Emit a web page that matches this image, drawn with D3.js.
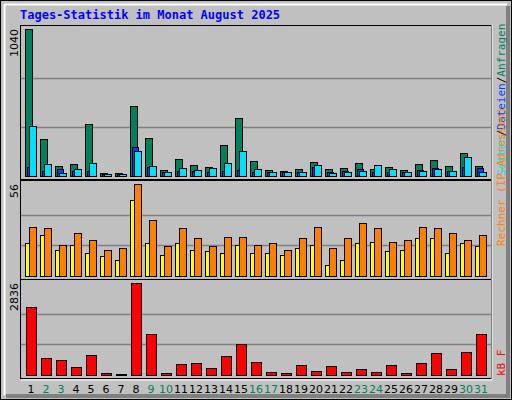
<!DOCTYPE html>
<html><head><meta charset="utf-8">
<script src="https://cdn.jsdelivr.net/npm/d3@7"></script>
<style>body{margin:0;background:#fff}svg{display:block}</style>
</head><body><div id="chart"></div>
<script>
let days = d3.range(1, 32);
let weekend = [2, 3, 9, 10, 16, 17, 23, 24, 30, 31];
let hits = [1040, 262, 71, 85, 368, 21, 21, 495, 269, 42, 120, 78, 64, 219, 410, 106, 42, 35, 50, 99, 50, 57, 92, 50, 64, 42, 85, 113, 71, 163, 71];
let files = [64, 35, 50, 35, 35, 14, 14, 205, 64, 28, 35, 35, 28, 35, 42, 28, 28, 28, 28, 64, 28, 35, 50, 28, 28, 28, 42, 57, 35, 64, 57];
let pages = [354, 85, 21, 50, 92, 14, 14, 177, 71, 28, 57, 42, 57, 92, 177, 50, 28, 28, 28, 78, 21, 28, 35, 78, 50, 28, 35, 50, 35, 134, 28];
let visits = [20, 25, 16, 19, 14, 12, 10, 46, 20, 13, 20, 16, 15, 14, 19, 14, 14, 13, 17, 19, 7, 10, 20, 21, 15, 16, 23, 23, 14, 20, 18];
let sites = [30, 29, 19, 26, 22, 16, 17, 56, 34, 18, 29, 23, 18, 24, 24, 19, 20, 16, 23, 30, 17, 23, 32, 29, 21, 22, 30, 29, 26, 22, 25];
let kbytes = [2083, 536, 474, 258, 629, 72, 41, 2836, 1279, 72, 351, 382, 227, 598, 969, 413, 103, 72, 320, 134, 289, 103, 196, 103, 320, 72, 382, 691, 196, 722, 1279];

let svg = d3.select('#chart').append('svg').attr('width', 512).attr('height', 400);

// frame
svg.append('rect').attr('width', 512).attr('height', 400).attr('fill', '#c0c0c0');
svg.append('rect').attr('x', 0.5).attr('y', 0.5).attr('width', 511).attr('height', 399).attr('fill', 'none').attr('stroke', '#000');
svg.append('path').attr('d', 'M4.5,395 V4.5 H507').attr('stroke', '#fff').attr('stroke-width', 2).attr('fill', 'none');
svg.append('path').attr('d', 'M6,396 H508 V6').attr('stroke', '#808080').attr('stroke-width', 4).attr('fill', 'none');

svg.append('text').attr('x', 20).attr('y', 19).text('Tages-Statistik im Monat August 2025')
   .attr('fill', '#0000ff').style('font', 'bold 12px "DejaVu Sans Mono", monospace');

let x = d3.scaleBand().domain(days).range([25, 490]).paddingInner(0);

function panel(top, bottom, maxv) {
  svg.append('rect').attr('x', 20.5).attr('y', top + 0.5).attr('width', 471).attr('height', bottom - top)
     .attr('fill', '#c0c0c0').attr('stroke', '#000');
  svg.append('path').attr('d', `M21,${bottom + 2} H492 V${top}`).attr('stroke', '#fff').attr('fill', 'none');
  let y = d3.scaleLinear().domain([0, maxv]).range([bottom - 3, top + 4]);
  [1 / 3, 2 / 3].forEach(f => {
    svg.append('line').attr('x1', 21).attr('x2', 491).attr('y1', Math.round(y(maxv * f)) + 0.5).attr('y2', Math.round(y(maxv * f)) + 0.5)
       .attr('stroke', '#808080').attr('stroke-width', 1.5);
  });
  svg.append('text').attr('transform', `translate(18,${top + 4}) rotate(-90)`).attr('text-anchor', 'end')
     .text(maxv).style('font', '11px "DejaVu Sans", sans-serif');
  return y;
}

function bars(data, y, dx, w, color) {
  svg.append('g').selectAll('rect').data(data).enter().append('rect')
     .attr('x', (v, i) => x(days[i]) + dx + 0.5)
     .attr('y', v => Math.round(y(v)) + 0.5)
     .attr('width', w)
     .attr('height', v => Math.max(1, y(0) - Math.round(y(v))))
     .attr('fill', color).attr('stroke', '#000');
}

let y1 = panel(25, 179, 1040);
bars(hits, y1, 0, 7, '#00805c');
bars(files, y1, 2, 6, '#0040ff');
bars(pages, y1, 4, 7, '#00e0ff');

let y2 = panel(180, 279, 56);
bars(visits, y2, 0, 4, '#ffff00');
bars(sites, y2, 4, 7, '#ff8000');

let y3 = panel(279, 378, 2836);
bars(kbytes, y3, 1, 10, '#ff0000');

// day labels
svg.append('g').selectAll('text').data(days).enter().append('text')
   .attr('x', d => x(d) + 6).attr('y', 393).attr('text-anchor', 'middle')
   .attr('fill', d => weekend.includes(d) ? '#00805c' : '#000')
   .style('font', '11px "DejaVu Sans", sans-serif').text(d => d);

// right side labels
function vlabel(yPos, parts, anchor) {
  let t = svg.append('text').attr('transform', `translate(505,${yPos}) rotate(-90)`)
     .attr('text-anchor', anchor).style('font', '11px "DejaVu Sans Mono", monospace');
  parts.forEach(p => t.append('tspan').attr('fill', p[1]).text(p[0]));
}
vlabel(176, [['Seiten', '#00e0ff'], ['/', '#000'], ['Dateien', '#0040ff'], ['/', '#000'], ['Anfragen', '#00805c']], 'start');
vlabel(246, [['Rechner (IP-Adressen)', '#ff8000']], 'start');
vlabel(376, [['kB F', '#ff0000']], 'start');
</script></body></html>
